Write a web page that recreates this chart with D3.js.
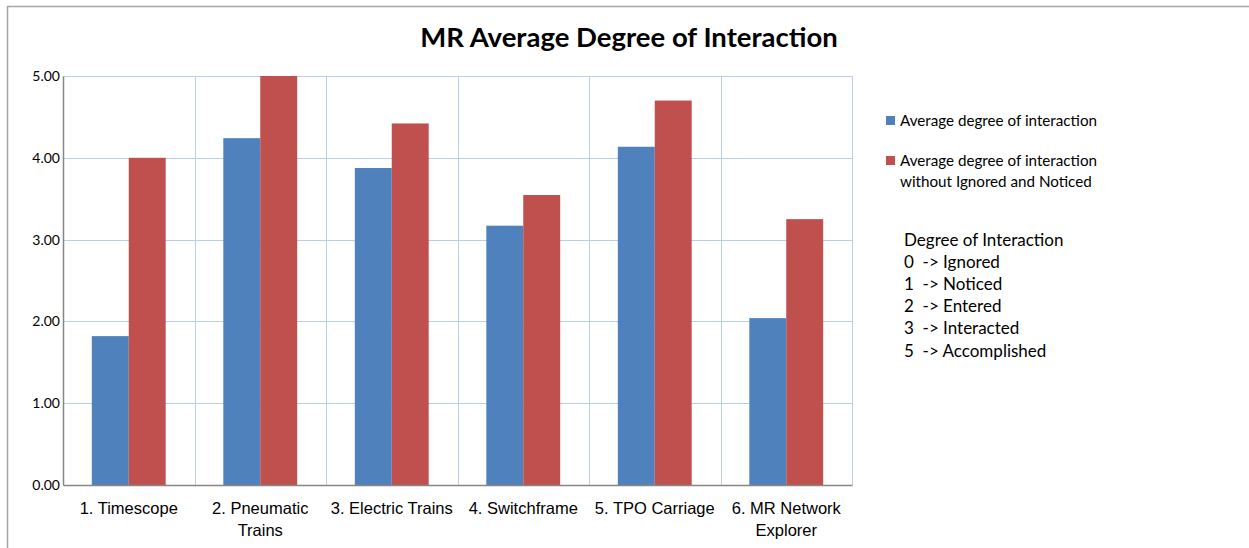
<!DOCTYPE html>
<html><head><meta charset="utf-8">
<script src="https://cdn.jsdelivr.net/npm/d3@7"></script>
<style>body{margin:0;background:#fff;} svg{display:block;font-family:Lato,"Open Sans",sans-serif;}</style>
</head><body>
<script>
const categories = ["1. Timescope", "2. Pneumatic Trains", "3. Electric Trains", "4. Switchframe", "5. TPO Carriage", "6. MR Network Explorer"];
const categoryLines = [["1. Timescope"], ["2. Pneumatic", "Trains"], ["3. Electric Trains"], ["4. Switchframe"], ["5. TPO Carriage"], ["6. MR Network", "Explorer"]];
const seriesNames = ["Average degree of interaction", "Average degree of interaction without Ignored and Noticed"];
const avgAll = [1.82, 4.24, 3.875, 3.17, 4.135, 2.04];
const avgWithout = [4.00, 5.00, 4.42, 3.545, 4.70, 3.25];
const yTicks = [0, 1, 2, 3, 4, 5];
const colors = ["#4F81BD", "#C0504D"];
const degreeLines = ["Degree of Interaction", "0  -> Ignored", "1  -> Noticed", "2  -> Entered", "3  -> Interacted", "5  -> Accomplished"];

const W = 1249, H = 548;
const svg = d3.select("body").append("svg").attr("width", W).attr("height", H);

// outer frame
svg.append("path").attr("d", `M7.5,${H} V6.5 H${W}`).attr("fill","none").attr("stroke","#a6a6a6").attr("stroke-width",1.5);

const m = {left: 63, right: 852, top: 76, bottom: 485};
const x = d3.scaleBand().domain(categories).range([m.left, m.right]).paddingInner(0).paddingOuter(0);
const inner = d3.scaleBand().domain([0,1]).range([0, x.bandwidth()]).paddingInner(0).paddingOuter(0.78);
const y = d3.scaleLinear().domain([0,5]).range([m.bottom, m.top]);

// gridlines
const grid = svg.append("g");
grid.selectAll("line.h").data(yTicks.slice(1)).join("line")
  .attr("x1", m.left).attr("x2", m.right).attr("y1", d => Math.round(y(d))+0.5).attr("y2", d => Math.round(y(d))+0.5)
  .attr("stroke", "#b9cde5").attr("stroke-width", 1);
grid.selectAll("line.v").data(categories.slice(1).concat(["__end"])).join("line")
  .attr("x1", d => Math.round(d === "__end" ? m.right : x(d))+0.5)
  .attr("x2", d => Math.round(d === "__end" ? m.right : x(d))+0.5)
  .attr("y1", m.top).attr("y2", m.bottom)
  .attr("stroke", "#b9cde5").attr("stroke-width", 1);

// bars
const data = categories.map((c,i) => ({c, vals:[avgAll[i], avgWithout[i]]}));
const g = svg.append("g");
g.selectAll("g.cat").data(data).join("g").attr("transform", d => `translate(${x(d.c)},0)`)
  .selectAll("rect").data(d => d.vals.map((v,k)=>({v,k}))).join("rect")
  .attr("x", d => inner(d.k)).attr("width", inner.bandwidth())
  .attr("y", d => y(d.v)).attr("height", d => y(0) - y(d.v))
  .attr("fill", d => colors[d.k]);

// y axis
const yAxis = d3.axisLeft(y).tickValues(yTicks).tickFormat(d3.format(".2f")).tickSize(0).tickPadding(3);
const ya = svg.append("g").attr("transform", `translate(${m.left},0)`).call(yAxis);
ya.select(".domain").attr("stroke", "#868686").attr("stroke-width", 1.5);
ya.selectAll("text").attr("font-size", 14).attr("fill", "#000").attr("font-family", "Lato, sans-serif");

// x axis
const xAxis = d3.axisBottom(x).tickSize(0).tickFormat("");
const xa = svg.append("g").attr("transform", `translate(0,${m.bottom})`).call(xAxis);
xa.select(".domain").attr("stroke", "#868686").attr("stroke-width", 1.5);
xa.selectAll(".tick").each(function(d,i){
  const t = d3.select(this).append("text").attr("fill","#000").attr("font-size",16.5).attr("text-anchor","middle");
  categoryLines[i].forEach((s,j) => t.append("tspan").attr("x",0).attr("y", 29 + j*22).text(s));
});

// title
svg.append("text").attr("x", 629).attr("y", 47).attr("text-anchor","middle")
  .attr("font-size", 27.5).attr("font-weight","bold").attr("fill","#000").text("MR Average Degree of Interaction");

// legend
const leg = svg.append("g");
const legItems = [{lines:["Average degree of interaction"], y:121}, {lines:["Average degree of interaction","without Ignored and Noticed"], y:161}];
legItems.forEach((it,k) => {
  leg.append("rect").attr("x", 886).attr("y", it.y - 5).attr("width", 9).attr("height", 9).attr("fill", colors[k]);
  const t = leg.append("text").attr("font-size", 15.2).attr("fill","#000");
  it.lines.forEach((s,j) => t.append("tspan").attr("x", 900).attr("y", it.y + 5 + j*21).text(s));
});

// degree block
const deg = svg.append("text").attr("font-size", 17).attr("fill","#000");
degreeLines.forEach((s,j) => deg.append("tspan").attr("x", 904).attr("y", 245.5 + j*22.2).attr("xml:space","preserve").text(s));
</script>
</body></html>
